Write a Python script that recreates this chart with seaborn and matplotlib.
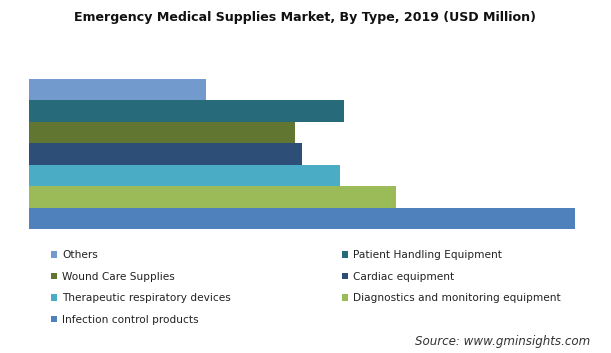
import numpy as np
import pandas as pd
import matplotlib
matplotlib.use('Agg')
import matplotlib.pyplot as plt
import seaborn as sns
from matplotlib.patches import Patch

# 数据
categories = ['Others', 'Patient Handling Equipment', 'Wound Care Supplies',
              'Cardiac equipment', 'Therapeutic respiratory devices',
              'Diagnostics and monitoring equipment', 'Infection control products']
values = [1110, 1975, 1665, 1710, 1950, 2300, 3420]
colors = ['#729ACC', '#276B7B', '#617631', '#2C4E77', '#4BACC6', '#9BBB59', '#4F81BD']

df = pd.DataFrame({'type': categories, 'value': values})

sns.set_style('white')
plt.rcParams['font.family'] = ['DejaVu Sans']

fig = plt.figure(figsize=(6.11, 3.53), dpi=100)
ax = fig.add_axes([29 / 611, 1 - 229 / 353, (575 - 29) / 611, 150 / 353])

sns.barplot(data=df, x='value', y='type', hue='type', order=categories,
            palette=colors, orient='h', width=1.0, saturation=1,
            linewidth=0, edgecolor='none', legend=False, ax=ax)

ax.set_xlim(0, max(values))
ax.set_xticks([])
ax.set_yticks([])
ax.set_xlabel('')
ax.set_ylabel('')
for s in ax.spines.values():
    s.set_visible(False)

fig.text(0.5, 1 - 18 / 353, 'Emergency Medical Supplies Market, By Type, 2019 (USD Million)',
         ha='center', va='center', fontsize=9.1, fontweight='bold', color='#111111')

# 图例（按行排列，matplotlib按列填充所以重排）
order = [0, 2, 4, 6, 1, 3, 5]
handles = [Patch(facecolor=colors[i], edgecolor='none') for i in order]
labels = [categories[i] for i in order]
fig.legend(handles, labels, ncol=2, loc='upper left',
           bbox_to_anchor=(51 / 611, 1 - 250 / 353), frameon=False,
           fontsize=7.6, handlelength=0.6, handleheight=0.6, handletextpad=0.45,
           labelspacing=1.1, columnspacing=10.5, borderaxespad=0, borderpad=0,
           labelcolor='#222222')

fig.text(590 / 611, 1 - 342 / 353, 'Source: www.gminsights.com', ha='right', va='center',
         fontsize=8.6, style='italic', color='#333333')

fig.savefig('out.png', dpi=100)
